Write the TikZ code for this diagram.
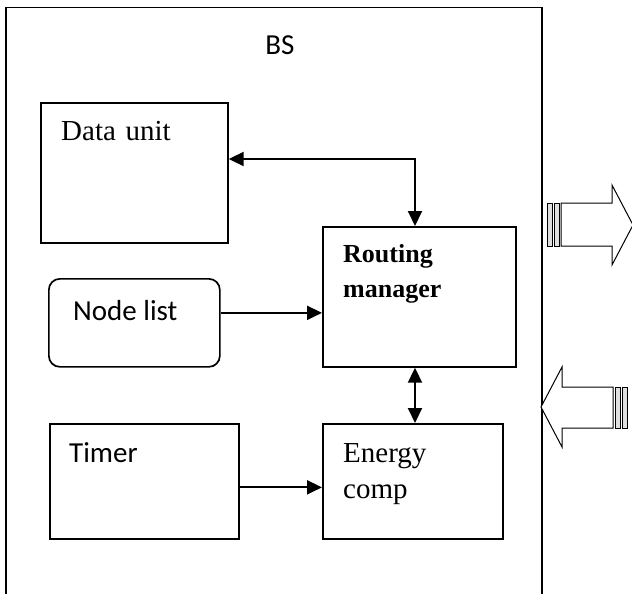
\documentclass[tikz,border=0pt]{standalone}
\usepackage{fontspec}
\setmainfont{Liberation Serif}
\newfontfamily\calibri{Carlito}
\usetikzlibrary{arrows.meta}

\tikzset{
	block/.style={draw, line width=1.7pt, anchor=north west, inner sep=0pt},
	serif/.style={anchor=base west, inner sep=0pt, text width=170pt, align=left,
		font=\fontsize{29}{36}\selectfont},
	sans/.style={anchor=base west, inner sep=0pt, font=\calibri\fontsize{29}{35}\selectfont},
	link/.style={line width=2pt, >={Triangle[length=15pt,width=14pt]}},
	bigarrow/.style={draw, line width=1pt, fill=white, line join=miter},
	stripe/.style={draw, line width=0.9pt, fill=gray!25}
}

\begin{document}
\begin{tikzpicture}[x=1pt,y=-1pt]
			\useasboundingbox (0,0) rectangle (632,594);
			\node[block, line width=1.5pt, minimum width=536pt, minimum height=620pt] (bs) at (5,7) {};
			\node[sans, anchor=base] (bstext) at (280,55) {BS};

			\node[block, minimum width=187pt, minimum height=140pt] (du) at (40,102) {};
			\node[block, rounded corners=11pt, minimum width=171pt, minimum height=88pt] (nl) at (48,278) {};
			\node[block, minimum width=189pt, minimum height=115pt] (tm) at (49,423) {};
			\node[block, minimum width=193pt, minimum height=140pt] (rm) at (322,226) {};
			\node[block, minimum width=180pt, minimum height=115pt] (ec) at (322,423) {};

			\node[serif] (dutext) at ([shift={(21,38)}]du.north west) {Data unit};
			\node[sans] (nltext) at ([shift={(25,42)}]nl.north west) {Node list};
			\node[sans] (tmtext) at ([shift={(20,39)}]tm.north west) {Timer};
			\node[serif, font=\bfseries\fontsize{26}{35}\selectfont] (rmtext) at ([shift={(21,36)}]rm.north west) {Routing\\manager};
			\node[serif] (ectext) at ([shift={(21,39)}]ec.north west) {Energy\\comp};

			% vertical link line shared by the routing manager
			\coordinate (bus) at (415,159);
			\draw[link, <->] (du.east |- bus) -| (rm.north -| bus);
			\draw[link, ->] ([yshift=10pt]nl.east) coordinate (nlout) -- (rm.west |- nlout);
			\draw[link, <->] (rm.south -| bus) -- (ec.north -| bus);
			\draw[link, ->] ([yshift=-6pt]tm.east) -- ([yshift=-6pt]ec.west);

			% outgoing and incoming striped arrows
			\draw[bigarrow] (561,203) -- (612,203) -- (612,185) -- (633,225) -- (612,265) -- (612,246) -- (561,246) -- cycle;
			\draw[stripe] (547,203) rectangle (552,246);
			\draw[stripe] (554,203) rectangle (559,246);
			\draw[bigarrow] (613,387) -- (562,387) -- (562,367) -- (541,407) -- (562,447) -- (562,428) -- (613,428) -- cycle;
			\draw[stripe] (615,387) rectangle (620,428);
			\draw[stripe] (622,387) rectangle (627,428);
	\end{tikzpicture}
\end{document}
